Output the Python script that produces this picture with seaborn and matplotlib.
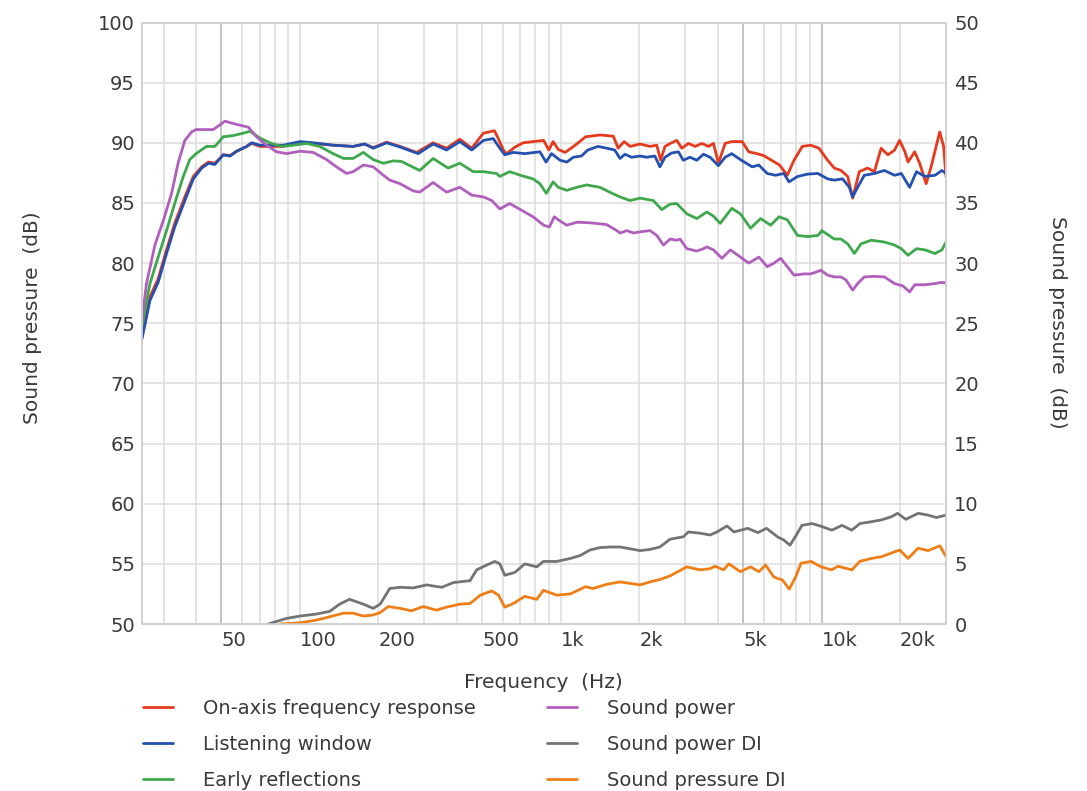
import matplotlib
matplotlib.use("Agg")
import seaborn as sns
import matplotlib.pyplot as plt
from matplotlib.ticker import NullLocator

# -------------------------------
# DATA
# -------------------------------
# On-axis frequency response, left axis (dB)
on_axis_hz = [24.8, 26.6, 28.6, 30.8, 33.1, 36.2, 39, 42, 44.6, 47.2, 50.8, 54, 57.2, 62.5, 65.3,
              70.2, 76.7, 86.3, 100, 112.5, 134, 160, 177, 191, 215, 242, 280, 324, 365, 410,
              456, 505, 557, 572, 606, 620, 668, 718, 783, 860, 900, 935, 978, 1040, 1136,
              1245, 1414, 1590, 1660, 1750, 1843, 2014, 2200, 2335, 2415, 2510, 2660, 2785,
              2912, 3086, 3276, 3475, 3685, 3851, 4020, 4270, 4525, 4960, 5260, 5650, 5980,
              6430, 6900, 7390, 7840, 8440, 9090, 9770, 10550, 11190, 11870, 12600, 13160,
              13950, 15000, 15940, 16920, 17960, 19050, 19920, 20880, 21460, 22760, 23770,
              25180, 26300, 28380, 29380, 30000]
on_axis_db = [74.1, 77.2, 78.7, 81.1, 83.3, 85.5, 87.2, 88.0, 88.4, 88.3, 89.0, 88.95, 89.3, 89.7, 89.95,
              89.7, 89.7, 89.7, 90.0, 89.95, 89.8, 89.7, 89.9, 89.6, 90.05, 89.7, 89.2, 90.0, 89.55, 90.3,
              89.55, 90.8, 91.0, 90.5, 89.3, 89.1, 89.65, 90.0, 90.1, 90.2, 89.4, 90.1, 89.45, 89.2, 89.8,
              90.5, 90.65, 90.55, 89.55, 90.1, 89.7, 89.9, 89.7, 89.8, 88.55, 89.7, 90.0, 90.2,
              89.55, 89.95, 89.7, 89.95, 89.7, 89.95, 88.3, 89.95, 90.1, 90.1, 89.25, 89.1, 88.95,
              88.55, 88.15, 87.3, 88.55, 89.7, 89.8, 89.55, 88.55, 87.9, 87.7, 87.2, 85.4,
              87.6, 87.9, 87.6, 89.55, 89.0, 89.4, 90.2, 89.25, 88.4, 89.25, 88.3,
              86.6, 88.0, 90.9, 89.7, 87.2]

# Listening window, left axis (dB)
listening_hz = [24.8, 26.6, 28.6, 30.8, 33.1, 36.2, 39, 42, 44.6, 47.2, 50.8, 54, 57.2, 62.5, 65.3,
                70.2, 76.7, 86.3, 100, 112.5, 134, 160, 177, 191, 215, 242, 284, 324, 365, 410,
                456, 505, 551, 584, 610, 657, 728, 832, 878, 922, 994, 1055, 1118, 1200, 1270,
                1390, 1500, 1610, 1688, 1763, 1870, 2014, 2135, 2295, 2400, 2510, 2660, 2826,
                2950, 3131, 3324, 3526, 3740, 4020, 4270, 4525, 4885, 5420, 5750, 6190, 6660,
                7170, 7500, 8090, 8860, 9680, 10550, 11190, 12040, 12780, 13160, 13750, 14580,
                15940, 17420, 19050, 20220, 21760, 23120, 24900, 27230, 28940, 30000]
listening_db = [73.7, 76.9, 78.4, 80.8, 83.0, 85.2, 87.0, 87.9, 88.3, 88.2, 89.0, 88.9, 89.3, 89.7, 90.0,
                89.8, 89.8, 89.8, 90.1, 90.0, 89.8, 89.7, 89.9, 89.55, 90.0, 89.65, 89.1, 89.9, 89.4, 90.1,
                89.4, 90.2, 90.35, 89.55, 89.0, 89.2, 89.1, 89.25, 88.4, 89.1, 88.55, 88.4, 88.8, 88.9, 89.4,
                89.7, 89.55, 89.4, 88.7, 89.05, 88.8, 88.9, 88.8, 88.9, 88.0, 88.8, 89.15, 89.25,
                88.55, 88.8, 88.55, 89.05, 88.8, 88.1, 88.8, 89.1, 88.6, 88.0, 88.15, 87.45, 87.3,
                87.45, 86.75, 87.2, 87.4, 87.45, 87.0, 86.9, 87.0, 86.3, 85.5, 86.3, 87.3,
                87.45, 87.7, 87.3, 87.45, 86.3, 87.6, 87.2, 87.3, 87.7, 87.45]

# Early reflections, left axis (dB)
early_hz = [24.8, 26.6, 28.6, 30.8, 33.1, 35.7, 37.8, 40, 43.8, 47.2, 50.8, 55.5, 60.6, 64.3, 70.2,
            76.7, 85, 94.3, 106, 119, 134, 147, 160, 175, 191, 209, 228, 245, 288, 324, 370,
            410, 462, 505, 567, 584, 637, 700, 783, 832, 880, 935, 978, 1055, 1153, 1257, 1414,
            1540, 1688, 1843, 2014, 2265, 2440, 2626, 2785, 3042, 3324, 3631, 3851, 4086, 4525,
            4885, 5340, 5840, 6380, 6870, 7390, 8090, 8860, 9680, 10020, 11190, 11870, 12600,
            13360, 14170, 15500, 17420, 19050, 20220, 21460, 23120, 24900, 27230, 28940, 30000]
early_db = [74.8, 78.3, 80.5, 82.7, 84.95, 87.2, 88.6, 89.1, 89.7, 89.7, 90.5, 90.6, 90.8, 90.95, 90.4,
            90.0, 89.7, 89.8, 89.95, 89.7, 89.1, 88.7, 88.7, 89.2, 88.6, 88.3, 88.5, 88.45, 87.7, 88.7, 87.9,
            88.3, 87.6, 87.6, 87.45, 87.2, 87.6, 87.3, 87.0, 86.6, 85.8, 86.75, 86.3, 86.05, 86.3, 86.5, 86.3,
            85.9, 85.5, 85.2, 85.4, 85.2, 84.45, 84.9, 84.95, 84.1, 83.7, 84.25, 83.9, 83.3, 84.55,
            84.1, 82.9, 83.7, 83.15, 83.85, 83.6, 82.3, 82.2, 82.3, 82.7, 82.0, 82.0, 81.6,
            80.8, 81.6, 81.9, 81.75, 81.5, 81.2, 80.65, 81.2, 81.1, 80.8, 81.1, 81.75]

# Sound power, left axis (dB)
power_hz = [24.8, 25.8, 27.8, 30, 32.2, 34.1, 36.2, 38.4, 40, 46.5, 49.4, 51.6, 55.5, 60.6, 63.4,
            68.2, 74.5, 81.4, 88.9, 100, 112.5, 126.6, 138, 151, 160, 175, 191, 209, 221, 242,
            272, 288, 324, 365, 410, 456, 505, 544, 584, 637, 707, 783, 860, 905, 944, 994,
            1055, 1153, 1294, 1500, 1640, 1688, 1793, 1902, 2014, 2200, 2335, 2476, 2626, 2785,
            2868, 3042, 3324, 3526, 3631, 3851, 4150, 4470, 4885, 5260, 5750, 6190, 6570, 6970,
            7390, 7840, 8580, 9090, 9940, 10550, 11190, 11870, 12410, 13160, 13750, 14580,
            15940, 17420, 19050, 20500, 21760, 22760, 24900, 27230, 28940, 30000]
power_db = [75.25, 78.3, 81.5, 83.6, 85.8, 88.3, 90.2, 90.9, 91.1, 91.1, 91.5, 91.8, 91.6, 91.4, 91.3,
            90.5, 89.8, 89.25, 89.1, 89.3, 89.2, 88.6, 88.0, 87.45, 87.6, 88.15, 88.0, 87.3, 86.9, 86.6,
            86.0, 85.9, 86.7, 85.9, 86.3, 85.65, 85.5, 85.2, 84.5, 84.95, 84.4, 83.85, 83.15, 83.0, 83.85, 83.5,
            83.15, 83.4, 83.35, 83.2, 82.7, 82.5, 82.7, 82.5, 82.6, 82.7, 82.3, 81.5, 82.0, 81.9,
            82.0, 81.2, 81.0, 81.2, 81.35, 81.1, 80.4, 81.1, 80.5, 80.0, 80.5, 79.7, 80.0, 80.4,
            79.7, 79.0, 79.1, 79.1, 79.4, 79.0, 78.85, 78.85, 78.6, 77.75, 78.3, 78.85,
            78.9, 78.85, 78.3, 78.1, 77.6, 78.2, 78.2, 78.3, 78.4, 78.35]

# Sound power DI, right axis (dB)
power_di_hz = [75.6, 89, 100, 116, 130, 142, 155, 175, 191, 203, 221, 242, 272, 306, 350, 388,
               449, 476, 520, 559, 584, 610, 668, 728, 809, 858, 965, 1089, 1190, 1294, 1414,
               1550, 1688, 2014, 2200, 2400, 2626, 2950, 3086, 3414, 3740, 3970, 4340, 4610,
               5210, 5700, 6150, 6830, 7140, 7570, 7930, 8410, 9190, 10040, 10950, 11970, 13060,
               14030, 15510, 16920, 18460, 19570, 21030, 23470, 25610, 27540, 30000]
power_di_db = [0.0, 0.47, 0.66, 0.83, 1.05, 1.65, 2.05, 1.65, 1.3, 1.65, 2.95, 3.05, 3.0, 3.25, 3.05, 3.45,
               3.6, 4.5, 4.9, 5.2, 5.0, 4.05, 4.3, 5.0, 4.75, 5.2, 5.2, 5.45, 5.7, 6.15, 6.35,
               6.4, 6.4, 6.1, 6.2, 6.4, 7.05, 7.25, 7.65, 7.55, 7.4, 7.65, 8.15, 7.65,
               7.95, 7.6, 7.95, 7.2, 7.0, 6.55, 7.25, 8.2, 8.35, 8.1, 7.8, 8.2, 7.8,
               8.35, 8.5, 8.65, 8.9, 9.2, 8.7, 9.2, 9.05, 8.85, 9.05]

# Sound pressure DI, right axis (dB)
pressure_di_hz = [84, 100, 116, 130, 147, 160, 175, 191, 203, 218, 242, 268, 297, 334, 365, 410,
                  449, 492, 544, 577, 610, 657, 728, 809, 858, 965, 1089, 1245, 1330, 1500, 1688,
                  2014, 2200, 2400, 2626, 3042, 3414, 3740, 3910, 4210, 4410, 4885, 5340, 5750,
                  6100, 6570, 7090, 7520, 7970, 8340, 9120, 9970, 10920, 11560, 13090, 13990,
                  15540, 17000, 19050, 19930, 21470, 23430, 25610, 28410, 30000]
pressure_di_db = [0.0, 0.1, 0.33, 0.6, 0.9, 0.9, 0.66, 0.75, 0.95, 1.45, 1.3, 1.1, 1.45, 1.15, 1.4, 1.65,
                  1.7, 2.4, 2.75, 2.4, 1.4, 1.7, 2.3, 2.05, 2.8, 2.4, 2.5, 3.1, 2.95, 3.3, 3.5,
                  3.25, 3.5, 3.7, 4.0, 4.75, 4.5, 4.6, 4.8, 4.5, 5.0, 4.35, 4.75, 4.35,
                  4.9, 3.9, 3.65, 2.9, 3.95, 5.05, 5.2, 4.75, 4.5, 4.8, 4.5, 5.2,
                  5.45, 5.6, 6.0, 6.15, 5.45, 6.3, 6.1, 6.5, 5.6]

freq_ticks = [50, 100, 200, 500, 1000, 2000, 5000, 10000, 20000]
freq_tick_labels = ["50", "100", "200", "500", "1k", "2k", "5k", "10k", "20k"]

# -------------------------------
# STYLE
# -------------------------------
sns.set_theme(style="white")
plt.rcParams['font.family'] = ['DejaVu Sans']
text_col = "#3a3a3a"
grid_col = "#dcdcdc"
fs = 14

fig = plt.figure(figsize=(10.87, 7.91), dpi=100)
W, H = 1087, 791
ax = fig.add_axes([142 / W, 1 - 624 / H, (946 - 142) / W, (624 - 22.5) / H])
ax2 = ax.twinx()

# -------------------------------
# CURVES
# -------------------------------
lw = 2.0
sns.lineplot(x=on_axis_hz, y=on_axis_db, ax=ax, color="#e53a1e", linewidth=lw,
             label="On-axis frequency response")
sns.lineplot(x=listening_hz, y=listening_db, ax=ax, color="#2450b0", linewidth=lw,
             label="Listening window")
sns.lineplot(x=early_hz, y=early_db, ax=ax, color="#3fa84c", linewidth=lw,
             label="Early reflections")
sns.lineplot(x=power_hz, y=power_db, ax=ax, color="#b060bc", linewidth=lw,
             label="Sound power")
sns.lineplot(x=power_di_hz, y=power_di_db, ax=ax2, color="#747474", linewidth=lw,
             label="Sound power DI")
sns.lineplot(x=pressure_di_hz, y=pressure_di_db, ax=ax2, color="#f07e16", linewidth=lw,
             label="Sound pressure DI")

# -------------------------------
# AXES
# -------------------------------
ax.set_xscale("log")
ax.set_xlim(24.8, 30000)
ax.set_ylim(50, 100)
ax2.set_ylim(0, 50)

ax.set_yticks(range(50, 101, 5))
ax2.set_yticks(range(0, 51, 5))
ax.set_xticks(freq_ticks)
ax.set_xticklabels(freq_tick_labels)
ax.xaxis.set_minor_locator(NullLocator())
for lab in ax.get_xticklabels():
    lab.set_horizontalalignment("left")

ax.tick_params(axis="x", length=0, pad=5, labelsize=fs, labelcolor=text_col)
ax.tick_params(axis="y", length=0, pad=5, labelsize=fs, labelcolor=text_col)
ax2.tick_params(axis="y", length=0, pad=6, labelsize=fs, labelcolor=text_col)

ax.grid(False)
ax2.grid(False)
for y in range(55, 100, 5):
    ax.axhline(y, color=grid_col, lw=1.1, zorder=0.5)
grid_hz = [m * 10 ** e for e in range(1, 5) for m in range(1, 10) if 24.8 < m * 10 ** e < 30000]
for f in grid_hz:
    c = "#b4b4b4" if f in (50, 5000, 10000) else grid_col
    ax.axvline(f, color=c, lw=1.1, zorder=0.5)

for a in (ax, ax2):
    for sp in a.spines.values():
        sp.set_color("#cfcfcf")
        sp.set_linewidth(1.1)

ax.set_xlabel("")
ax.set_ylabel("")
ax2.set_ylabel("")
fig.text(33 / W, 1 - 318 / H, "Sound pressure  (dB)", rotation=90, ha="center", va="center",
         fontsize=fs + 0.5, color=text_col)
fig.text(1057 / W, 1 - 322 / H, "Sound pressure  (dB)", rotation=-90, ha="center", va="center",
         fontsize=fs + 0.5, color=text_col)
fig.text(543 / W, 1 - 682 / H, "Frequency  (Hz)", ha="center", va="center",
         fontsize=fs + 0.5, color=text_col)

# -------------------------------
# LEGEND
# -------------------------------
h1, l1 = ax.get_legend_handles_labels()
h2, l2 = ax2.get_legend_handles_labels()
ax.get_legend().remove()
ax2.get_legend().remove()
leg = fig.legend(h1 + h2, l1 + l2, ncol=2, loc="upper left",
                 bbox_to_anchor=(143 / W, 1 - 698.5 / H), frameon=False,
                 fontsize=fs, handlelength=1.55, handletextpad=1.55,
                 columnspacing=3.65, labelspacing=0.88, borderpad=0, borderaxespad=0)
for t in leg.get_texts():
    t.set_color(text_col)

fig.savefig("out.png", dpi=100)
